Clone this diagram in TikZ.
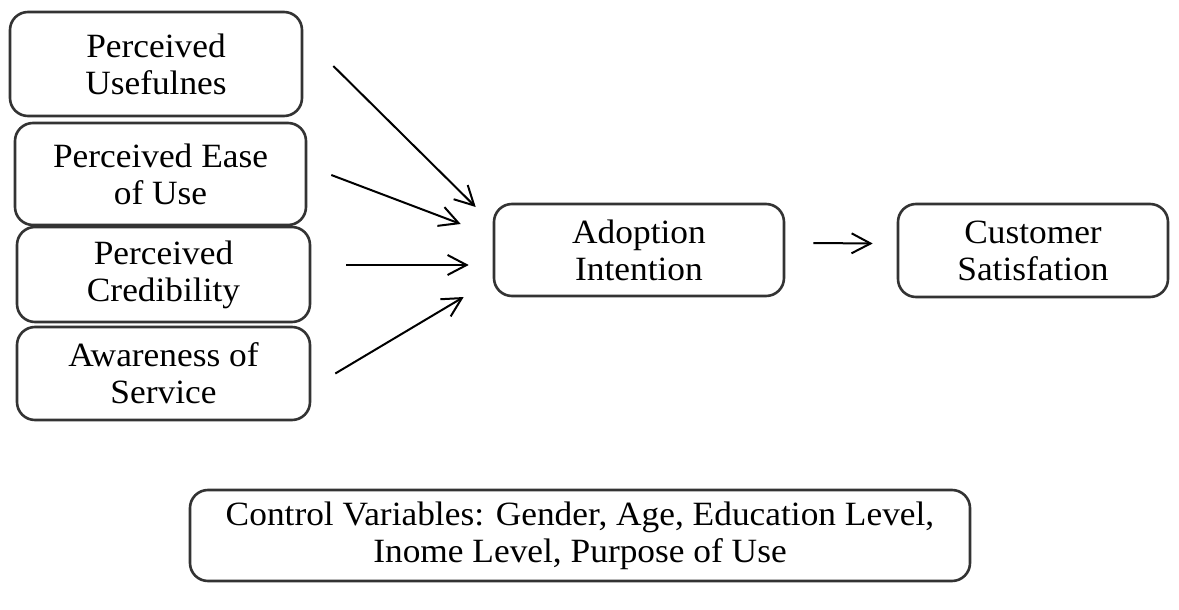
\documentclass[tikz,border=0pt]{standalone}
\usepackage{fontspec}
\setmainfont[FakeStretch=1.04]{Liberation Serif}
\usepackage{tikz}
\usetikzlibrary{arrows.meta}

\begin{document}
\begin{tikzpicture}[
  x=1pt, y=-1pt,
  every node/.style={font=\fontsize{34}{37}\selectfont, align=center, inner sep=0pt},
  box/.style={draw=black!80, line width=2.6pt, rounded corners=18pt},
  arr/.style={line width=2pt, -{Straight Barb[length=19pt,width=20pt,line width=2pt]}}
]
\useasboundingbox (0,0) rectangle (1179,610);
% left column
\node[box, minimum width=292pt, minimum height=104pt] (pu) at (156,64) {Perceived\\Usefulnes};
\node[box, minimum width=291pt, minimum height=102pt] (pe) at (160.5,174) {Perceived Ease\\of Use};
\node[box, minimum width=293pt, minimum height=95pt] (pc) at (163.5,274.5) {Perceived\\Credibility};
\node[box, minimum width=293pt, minimum height=93pt] (as) at (163.5,373.5) {Awareness of\\Service};
% middle and right
\node[box, minimum width=290pt, minimum height=92pt] (ai) at (639,250) {Adoption\\Intention};
\node[box, minimum width=270pt, minimum height=93pt] (cs) at (1033,250.5) {Customer\\Satisfation};
\node[box, minimum width=780pt, minimum height=91pt] (cv) at (580,535.5) {Control Variables: Gender, Age, Education Level,\\Inome Level, Purpose of Use};
% arrows
\draw[arr] ([xshift=30pt,yshift=-2pt]pu.east) -- ([xshift=-17pt,yshift=43pt]ai.west);
\draw[arr] ([xshift=24pt,yshift=-1pt]pe.east) -- ([xshift=-32pt,yshift=26pt]ai.west);
\draw[arr] ([xshift=35pt,yshift=9.5pt]pc.east) -- ([xshift=-24pt,yshift=-15pt]ai.west);
\draw[arr] ([xshift=24pt]as.east) -- ([xshift=-29pt,yshift=-47pt]ai.west);
\draw[arr] ([xshift=28pt,yshift=7pt]ai.east) -- ([xshift=-24pt,yshift=7pt]cs.west);
\end{tikzpicture}
\end{document}
